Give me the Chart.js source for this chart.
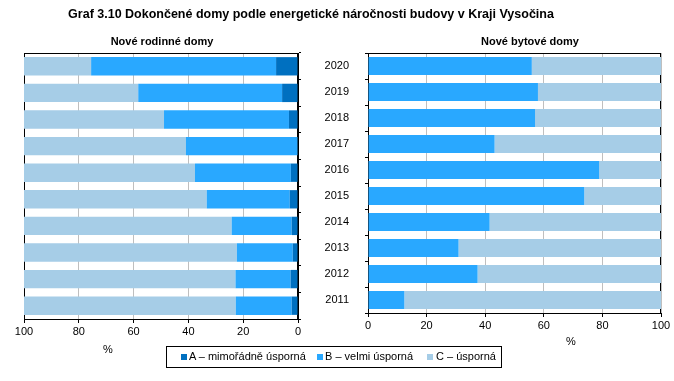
<!DOCTYPE html>
<html><head><meta charset="utf-8">
<script src="https://cdn.jsdelivr.net/npm/chart.js@4"></script>
<style>
body{margin:0;width:674px;height:381px;background:#fff;font-family:"Liberation Sans",Arial,sans-serif;position:relative;overflow:hidden}
.t{position:absolute;white-space:nowrap;color:#000;font-size:11px;line-height:13px}
#c1{position:absolute;left:0;top:0}
#c2{position:absolute;left:320px;top:0}
.sq{position:absolute;width:6px;height:6px}
</style></head><body>
<canvas id="c1" width="320" height="345"></canvas>
<canvas id="c2" width="354" height="345"></canvas>
<div class="t" style="left:0;width:622px;text-align:center;top:6px;font-size:12.5px;line-height:16px;font-weight:bold">Graf 3.10 Dokončené domy podle energetické náročnosti budovy v Kraji Vysočina</div>
<div class="t" style="left:0;width:324px;text-align:center;top:35px;font-weight:bold">Nové rodinné domy</div>
<div class="t" style="left:430px;width:200px;text-align:center;top:35px;font-weight:bold">Nové bytové domy</div>
<div class="t" style="left:88px;width:40px;text-align:center;top:343px">%</div>
<div class="t" style="left:551px;width:40px;text-align:center;top:335px">%</div>
<div style="position:absolute;left:166px;top:346px;width:334px;height:20px;border:1px solid #000"></div>
<div id="leg"></div>
<script>
const years = ['2020','2019','2018','2017','2016','2015','2014','2013','2012','2011'];
const seriesNames = ['A – mimořádně úsporná','B – velmi úsporná','C – úsporná'];
const seriesColors = ['#0070C0','#29A8FF','#A6CDE7'];
// Nové rodinné domy (%)
const rodA = [8.0,5.8,3.3,0.0,2.6,3.0,2.3,1.9,2.7,2.3];
const rodB = [67.5,52.5,45.6,40.9,35.0,30.3,21.9,20.4,20.1,20.4];
const rodC = [24.5,41.7,51.1,59.1,62.4,66.7,75.8,77.7,77.2,77.3];
// Nové bytové domy (%)
const bytA = [0,0,0,0,0,0,0,0,0,0];
const bytB = [55.9,58.0,57.0,43.2,78.9,73.8,41.5,30.9,37.4,12.4];
const bytC = [44.1,42.0,43.0,56.8,21.1,26.2,58.5,69.1,62.6,87.6];
const xTicks = [0,20,40,60,80,100];

Chart.defaults.font.family = "'Liberation Sans', Arial, sans-serif";
Chart.defaults.font.size = 11;
Chart.defaults.color = '#000';

// legend (HTML)
const legPos = [[181,189],[317,325],[427,436]];
const leg = document.getElementById('leg');
seriesNames.forEach((n,i)=>{
  const s=document.createElement('div');s.className='sq';
  s.style.left=legPos[i][0]+'px';s.style.top='354px';s.style.background=seriesColors[i];leg.appendChild(s);
  const t=document.createElement('div');t.className='t';t.textContent=n;
  t.style.left=legPos[i][1]+'px';t.style.top='350px';leg.appendChild(t);
});

const boxPlugin = {
  id:'box',
  beforeDatasetsDraw(chart){
    const a=chart.chartArea, c=chart.ctx;
    c.save();c.strokeStyle='#000';c.lineWidth=1;
    c.strokeRect(Math.round(a.left)+0.5,Math.round(a.top)+0.5,Math.round(a.right-a.left)-1,Math.round(a.bottom-a.top));
    c.restore();
  }
};

function ds(vals){
  return vals.map((v,i)=>({label:seriesNames[i],data:v,backgroundColor:seriesColors[i],borderWidth:0,barPercentage:0.69,categoryPercentage:1}));
}
function xScale(rev){
  return {stacked:true,reverse:rev,min:0,max:100,
    afterBuildTicks:s=>{s.ticks=xTicks.map(v=>({value:v}));},
    ticks:{padding:2,maxRotation:0,color:'#000'},
    grid:{color:'#bfbfbf',tickColor:'#000',tickLength:4},
    border:{color:'#000'},
    afterFit:s=>{s.height=20;}};
}

new Chart(document.getElementById('c1'),{
  type:'bar',
  data:{labels:years,datasets:ds([rodA,rodB,rodC])},
  options:{indexAxis:'y',responsive:false,animation:false,
    layout:{padding:{left:24,right:18,top:53,bottom:6}},
    plugins:{legend:{display:false},tooltip:{enabled:false}},
    scales:{
      x:xScale(true),
      y:{stacked:true,position:'right',ticks:{display:false},
        grid:{offset:true,drawOnChartArea:false,tickColor:'#000',tickLength:3},
        border:{color:'#000'},afterFit:s=>{s.width=4;}}
    }},
  plugins:[boxPlugin]
});

new Chart(document.getElementById('c2'),{
  type:'bar',
  data:{labels:years,datasets:ds([bytA,bytB,bytC])},
  options:{indexAxis:'y',responsive:false,animation:false,
    layout:{padding:{left:0,right:13,top:53,bottom:12}},
    plugins:{legend:{display:false},tooltip:{enabled:false}},
    scales:{
      x:xScale(false),
      y:{stacked:true,position:'left',ticks:{padding:16,color:'#000'},
        grid:{offset:true,drawOnChartArea:false,tickColor:'#000',tickLength:3},
        border:{color:'#000'},afterFit:s=>{s.width=48;}}
    }},
  plugins:[boxPlugin]
});
</script>
</body></html>
